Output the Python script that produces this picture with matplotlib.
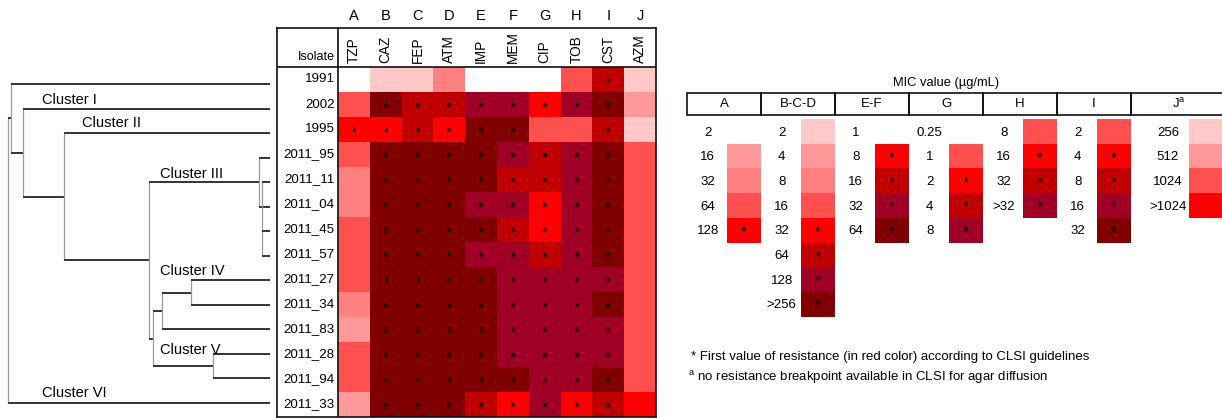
import numpy as np
import matplotlib
matplotlib.use("Agg")
import matplotlib.pyplot as plt
from matplotlib.colors import ListedColormap
from matplotlib.patches import Rectangle

plt.rcParams['font.family'] = ['Liberation Sans', 'DejaVu Sans']

W, H = 1222, 418

# colour scale: white -> dark red (index = MIC level)
palette = ['#FFFFFF', '#FFC9C9', '#FF9999', '#FF8080', '#FF5050',
           '#FF0000', '#C00000', '#A00025', '#800000']

isolates = ['1991', '2002', '1995', '2011_95', '2011_11', '2011_04', '2011_45',
            '2011_57', '2011_27', '2011_34', '2011_83', '2011_28', '2011_94', '2011_33']
letters = ['A', 'B', 'C', 'D', 'E', 'F', 'G', 'H', 'I', 'J']
drugs = ['TZP', 'CAZ', 'FEP', 'ATM', 'IMP', 'MEM', 'CIP', 'TOB', 'CST', 'AZM']
has_breakpoint = [True] * 9 + [False]

# colour level of every cell, rows = isolates, cols = A..J
levels = np.array([
    [0, 1, 1, 3, 0, 0, 0, 4, 6, 1],   # 1991
    [4, 8, 6, 6, 7, 7, 5, 7, 8, 2],   # 2002
    [5, 5, 6, 5, 8, 8, 4, 4, 6, 1],   # 1995
    [4, 8, 8, 8, 8, 7, 6, 7, 8, 4],   # 2011_95
    [3, 8, 8, 8, 8, 6, 6, 7, 8, 4],   # 2011_11
    [3, 8, 8, 8, 7, 7, 5, 7, 8, 4],   # 2011_04
    [4, 8, 8, 8, 8, 6, 5, 7, 8, 4],   # 2011_45
    [4, 8, 8, 8, 7, 7, 6, 7, 8, 4],   # 2011_57
    [4, 8, 8, 8, 8, 7, 7, 7, 7, 4],   # 2011_27
    [3, 8, 8, 8, 8, 7, 7, 7, 8, 4],   # 2011_34
    [2, 8, 8, 8, 8, 7, 7, 7, 7, 4],   # 2011_83
    [4, 8, 8, 8, 8, 7, 7, 7, 7, 4],   # 2011_28
    [4, 8, 8, 8, 8, 8, 7, 7, 8, 4],   # 2011_94
    [2, 8, 8, 8, 6, 5, 7, 5, 6, 5],   # 2011_33
])

# dendrogram: node -> (distance, children); ints are leaf (isolate) indices
tree = {
    'root': (262, ['A', 13]),
    'A': (259, [0, 'B']),
    'B': (247, [1, 'C']),
    'C': (206, [2, 'D']),
    'D': (121, ['III', 'F']),
    'III': (11, [3, 5]),
    'F': (117, ['E', 'V']),
    'E': (108, ['IV', 10]),
    'IV': (79, [8, 9]),
    'V': (57, [11, 12]),
}
loose_node = (8, [4, 6, 7])   # drawn without link to parent, as in source

cluster_labels = [('Cluster I', 228, 1, -0.35), ('Cluster II', 188, 2, -0.41),
                  ('Cluster III', 110, 'III', -0.33), ('Cluster IV', 110, 8, -0.38),
                  ('Cluster V', 110, 'V', -0.66), ('Cluster VI', 228, 13, -0.41)]

# legend table
groups = ['A', 'B-C-D', 'E-F', 'G', 'H', 'I', 'J$^{\\mathregular{a}}$']
mic_values = [['2', '16', '32', '64', '128'],
              ['2', '4', '8', '16', '32', '64', '128', '>256'],
              ['1', '8', '16', '32', '64'],
              ['0.25', '1', '2', '4', '8'],
              ['8', '16', '32', '>32'],
              ['2', '4', '8', '16', '32'],
              ['256', '512', '1024', '>1024']]
mic_levels = [[0, 2, 3, 4, 5],
              [1, 2, 3, 4, 5, 6, 7, 8],
              [0, 5, 6, 7, 8],
              [0, 4, 5, 6, 7],
              [4, 5, 6, 7],
              [4, 5, 6, 7, 8],
              [1, 2, 4, 5]]
group_breakpoint = [True] * 6 + [False]

cmap = ListedColormap(palette)
fig = plt.figure(figsize=(W / 100, H / 100), dpi=100)


def px_axes(x0, y0, x1, y1):
    return fig.add_axes([x0 / W, 1 - y1 / H, (x1 - x0) / W, (y1 - y0) / H])


# ---------------- heatmap ----------------
cw, ch = 31.8, 25.0
ax = px_axes(277, 28, 656, 417)
ax.imshow(levels, cmap=cmap, vmin=-0.5, vmax=8.5, extent=(0, 10, 14, 0),
          interpolation='nearest', aspect='auto')
ax.set_xlim(-61 / cw, 10)
ax.set_ylim(14, -39 / ch)
resist = (levels >= 5) & np.array(has_breakpoint)[None, :]
rr, cc = np.nonzero(resist)
ax.plot(cc + 0.5, rr + 0.5, ls='none', marker='*', ms=4.5, color='black', mew=0)
ax.set_xticks([])
ax.set_yticks([])
for s in ax.spines.values():
    s.set_linewidth(1.2)
    s.set_color('#111111')
ax.axvline(0, color='#111111', lw=1.2)
ax.axhline(0, color='#111111', lw=1.2)
for r, name in enumerate(isolates):
    ax.text(-0.1, r + 0.5, name, ha='right', va='center', fontsize=9.6)
ax.text(-0.1, -0.4, 'Isolate', ha='right', va='center', fontsize=9)
for c, (let, drug) in enumerate(zip(letters, drugs)):
    ax.text(c + 0.5, -0.16, drug, rotation=90, ha='center', va='bottom', fontsize=9.8)
    ax.text(c + 0.5, -2.04, let, ha='center', va='center', fontsize=10.5, clip_on=False)

# ---------------- dendrogram ----------------
lp = 24.54
axd = px_axes(0, 60, 277, 418)
axd.set_xlim(270, -7)
axd.set_ylim((418 - 84) / lp, (60 - 84) / lp)
axd.axis('off')


def node_pos(n):
    if isinstance(n, int):
        return 0, n
    dist, kids = tree[n]
    ys = [node_pos(k)[1] for k in kids]
    return dist, (min(ys) + max(ys)) / 2


def draw_node(dist, kids):
    pts = [node_pos(k) for k in kids]
    ys = [p[1] for p in pts]
    axd.plot([dist, dist], [min(ys), max(ys)], color='#999999', lw=0.9,
             solid_capstyle='butt')
    for kd, ky in pts:
        axd.plot([kd, dist], [ky, ky], color='#333333', lw=1.4,
                 solid_capstyle='butt')


for name, (dist, kids) in tree.items():
    draw_node(dist, kids)
draw_node(*loose_node)

for text, xd, anchor, dy in cluster_labels:
    axd.text(xd, node_pos(anchor)[1] + dy, text, ha='left', va='center', fontsize=10.5)

# ---------------- legend table ----------------
gw, rh = 74.0, 24.7
axl = px_axes(680, 70, 1222, 418)
axl.set_xlim((680 - 687) / gw, (1222 - 687) / gw)
axl.set_ylim((418 - 119) / rh, (70 - 119) / rh)
axl.axis('off')

axl.text(3.5, (83 - 119) / rh, 'MIC value (\u00b5g/mL)', ha='center', va='center',
         fontsize=9.3)
left = 0.0
for g, label in enumerate(groups):
    wide = not group_breakpoint[g]
    width = 1.3 if wide else 1.0
    txt_off = 0.5 if wide else 0.28
    sw0 = 0.78 if wide else 0.54
    sww = 0.46
    axl.add_patch(Rectangle((left, (93 - 119) / rh), width, 22 / rh, fill=False,
                            edgecolor='#111111', lw=1.2, clip_on=False))
    axl.text(left + width / 2, (104 - 119) / rh, label, ha='center', va='center',
             fontsize=9.5)
    for k, (val, lev) in enumerate(zip(mic_values[g], mic_levels[g])):
        axl.text(left + txt_off, k + 0.55, val, ha='center', va='center', fontsize=9.5)
        if lev > 0:
            axl.add_patch(Rectangle((left + sw0, k), sww, 1, facecolor=palette[lev],
                                    edgecolor='none', clip_on=False))
        if lev >= 5 and group_breakpoint[g]:
            axl.plot(left + sw0 + sww / 2, k + 0.45, marker='*', ms=4.5, color='black',
                     mew=0, ls='none')
    left += width

axl.text(0.05, (357 - 119) / rh,
         '* First value of resistance (in red color) according to CLSI guidelines',
         ha='left', va='center', fontsize=9.5)
axl.text(0.01, (378 - 119) / rh,
         '$^{\\mathregular{a}}$ no resistance breakpoint available in CLSI for agar diffusion',
         ha='left', va='center', fontsize=9.5)

fig.savefig('out.png', dpi=100)
